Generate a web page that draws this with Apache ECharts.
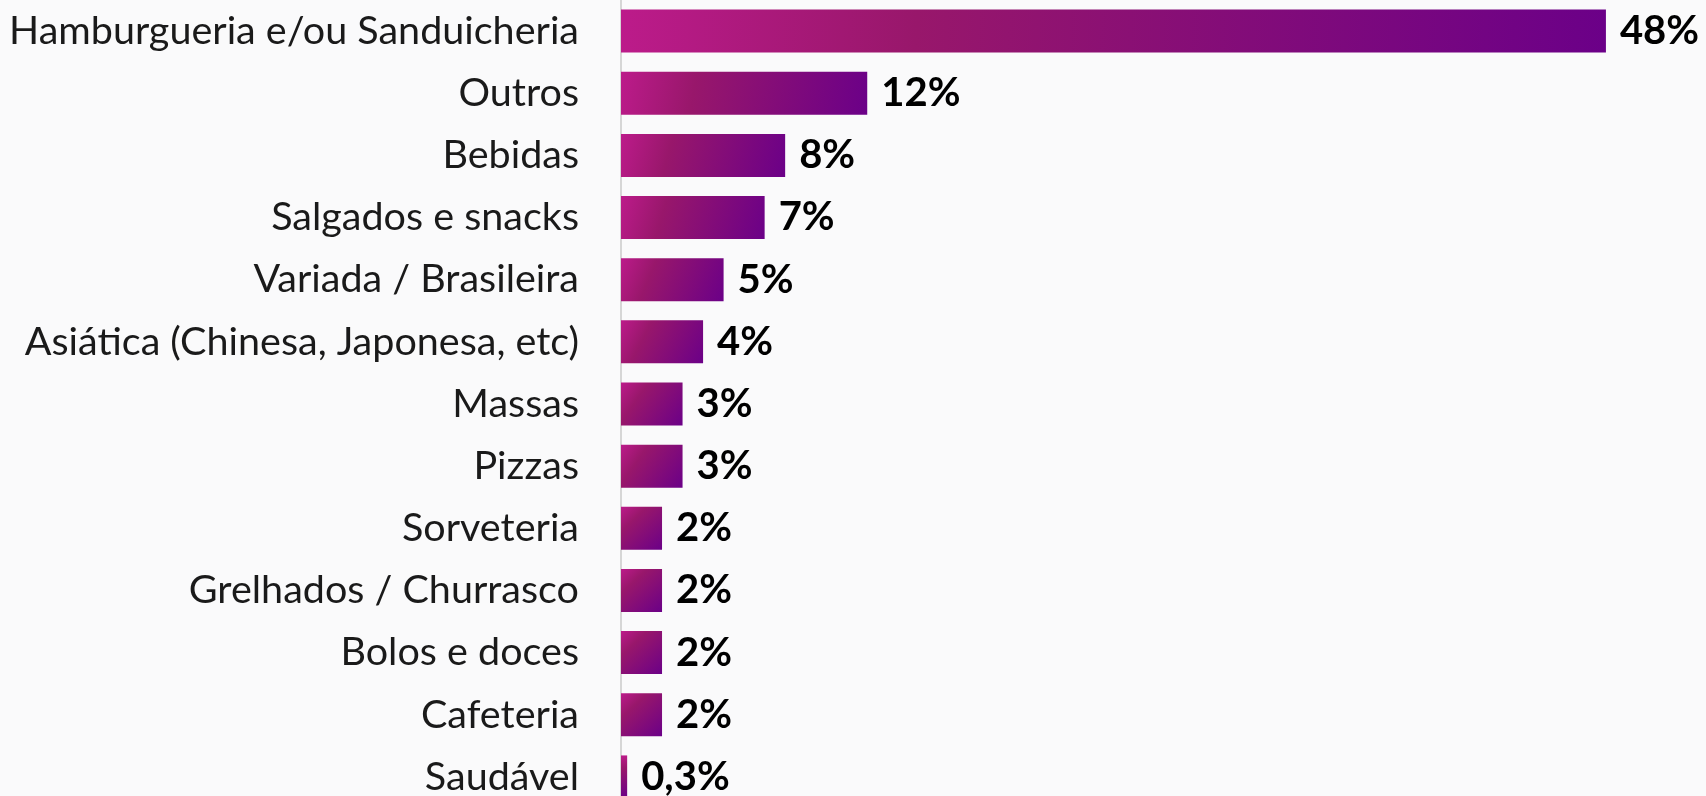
<!DOCTYPE html>
<html>
<head>
<meta charset="utf-8">
<script src="https://cdn.jsdelivr.net/npm/echarts@6/dist/echarts.min.js"></script>
<style>
html,body{margin:0;padding:0;background:#fafafb;overflow:hidden;}
#main{width:1706px;height:808px;}
</style>
</head>
<body>
<div id="main"></div>
<script>
var categorias = ['Hamburgueria e/ou Sanduicheria', 'Outros', 'Bebidas', 'Salgados e snacks',
	'Variada / Brasileira', 'Asiática (Chinesa, Japonesa, etc)', 'Massas', 'Pizzas',
	'Sorveteria', 'Grelhados / Churrasco', 'Bolos e doces', 'Cafeteria', 'Saudável'];
var valores = [48, 12, 8, 7, 5, 4, 3, 3, 2, 2, 2, 2, 0.3];

var myChart = echarts.init(document.getElementById('main'));

option = {
	backgroundColor: '#fafafb',
	grid: {
		left: 621,
		right: 18,
		top: 0,
		bottom: 0
	},
	xAxis: {
		type: 'value',
		min: 0,
		max: 52,
		show: false
	},
	yAxis: {
		type: 'category',
		inverse: true,
		data: categorias,
		axisTick: { show: false },
		axisLine: {
			show: true,
			lineStyle: { color: '#d6d6d6', width: 2 }
		},
		axisLabel: {
			margin: 42,
			color: '#1a1a1a',
			fontFamily: 'Lato',
			fontSize: 39.5
		}
	},
	series: [{
		type: 'bar',
		data: valores,
		barWidth: 43,
		itemStyle: {
			color: new echarts.graphic.LinearGradient(0, 0, 1, 1, [
				{ offset: 0, color: '#bc1b8a' },
				{ offset: 0.3, color: '#98176b' },
				{ offset: 1, color: '#6b0088' }
			])
		},
		label: {
			show: true,
			position: 'right',
			distance: 14,
			color: '#000',
			fontFamily: 'Lato',
			fontWeight: 'bold',
			fontSize: 40,
			formatter: function (p) {
				return String(p.value).replace('.', ',') + '%';
			}
		}
	}]
};

myChart.setOption(option);
window.addEventListener('resize', function(){
	myChart.resize();
});
</script>
</body>
</html>
